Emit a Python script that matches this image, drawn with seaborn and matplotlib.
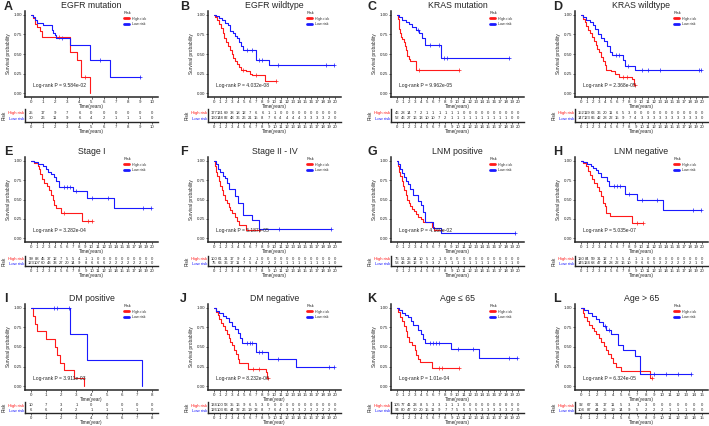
import numpy as np
import pandas as pd
import seaborn as sns
import matplotlib.pyplot as plt

# panel info
letters = ["A", "B", "C", "D", "E", "F", "G", "H", "I", "J", "K", "L"]
titles = ["EGFR mutation", "EGFR wildtype", "KRAS mutation", "KRAS wildtype",
          "Stage I", "Stage II - IV", "LNM positive", "LNM negative",
          "DM positive", "DM negative", "Age \u2264 65", "Age > 65"]
pvals = ["9.584e-02", "4.032e-08", "9.962e-05", "2.368e-05", "3.282e-04", "5.187e-05",
         "4.169e-02", "5.035e-07", "3.911e-03", "8.232e-06", "1.01e-04", "6.324e-05"]
xmax = [10, 20, 20, 20, 20, 20, 20, 20, 8, 20, 20, 15]
xlabels = ["Time(years)"] * 8 + ["Time(year)", "Time(year)", "Time(years)", "Time(years)"]

# A  EGFR mutation
a_high_t = [0.2, 0.35, 0.5, 0.7, 0.9, 3.2, 3.8, 4.1, 4.85]
a_high_s = [0.96, 0.88, 0.84, 0.80, 0.72, 0.52, 0.42, 0.21, 0.0]
a_high_c = [2.3, 4.5]
a_low_t = [0.15, 0.3, 0.5, 1.0, 1.7, 1.8, 1.95, 2.1, 3.2, 4.85, 6.55]
a_low_s = [0.97, 0.93, 0.90, 0.87, 0.81, 0.77, 0.74, 0.70, 0.62, 0.42, 0.21]
a_low_c = [2.6, 5.7, 9.0]
a_risk_high = [25, 17, 9, 7, 6, 0, 0, 0, 0, 0, 0]
a_risk_low = [30, 26, 11, 9, 6, 4, 2, 1, 1, 1, 0]

# B  EGFR wildtype
b_high_t = [0.2, 0.5, 0.8, 1.1, 1.4, 1.7, 2.0, 2.3, 2.6, 2.9, 3.2, 3.5, 3.8, 4.1, 4.4, 5.3, 5.9, 6.2, 8.4]
b_high_s = [0.97, 0.93, 0.88, 0.83, 0.77, 0.71, 0.65, 0.60, 0.55, 0.50, 0.45, 0.41, 0.37, 0.33, 0.30, 0.28, 0.25, 0.23, 0.16]
b_high_c = [4.8, 7.0, 10.3]
b_low_t = [0.3, 0.8, 1.3, 1.8, 2.3, 2.6, 3.1, 3.5, 3.8, 4.2, 4.5, 4.8, 7.0, 9.1]
b_low_s = [0.98, 0.96, 0.93, 0.90, 0.87, 0.80, 0.77, 0.73, 0.70, 0.65, 0.60, 0.55, 0.42, 0.36]
b_low_c = [5.5, 6.2, 7.5, 8.0, 10.5, 18.5, 19.8]
b_risk_high = [177, 131, 69, 38, 18, 12, 7, 6, 6, 1, 1, 0, 0, 0, 0, 0, 0, 0, 0, 0, 0]
b_risk_low = [160, 148, 82, 48, 36, 26, 21, 15, 8, 7, 6, 4, 4, 4, 4, 3, 3, 3, 3, 2, 0]

# C  KRAS mutation
c_high_t = [0.1, 0.25, 0.4, 0.55, 0.7, 0.9, 1.1, 1.3, 1.5, 1.7, 1.9, 2.1, 3.2]
c_high_s = [0.95, 0.88, 0.82, 0.77, 0.72, 0.69, 0.65, 0.60, 0.55, 0.48, 0.44, 0.41, 0.30]
c_high_c = [3.7, 10.3]
c_low_t = [0.4, 0.9, 1.4, 2.0, 2.5, 3.1, 3.7, 4.2, 4.6, 7.3]
c_low_s = [0.97, 0.94, 0.91, 0.88, 0.85, 0.81, 0.77, 0.70, 0.61, 0.45]
c_low_c = [3.5, 5.5, 7.0, 7.8, 8.2, 18.5]
c_risk_high = [46, 28, 14, 7, 2, 1, 1, 1, 1, 1, 1, 0, 0, 0, 0, 0, 0, 0, 0, 0, 0]
c_risk_low = [52, 46, 27, 16, 13, 10, 10, 7, 2, 1, 1, 1, 1, 1, 1, 1, 1, 1, 1, 0, 0]

# D  KRAS wildtype
d_high_t = [0.3, 0.6, 0.9, 1.2, 1.5, 1.8, 2.1, 2.4, 2.7, 3.0, 3.3, 3.6, 3.9, 4.2, 5.0, 5.6, 6.2, 8.4, 8.7]
d_high_s = [0.95, 0.91, 0.86, 0.81, 0.77, 0.72, 0.67, 0.62, 0.57, 0.52, 0.46, 0.41, 0.36, 0.30, 0.28, 0.24, 0.21, 0.18, 0.10]
d_high_c = [7.0, 7.6, 8.9]
d_low_t = [0.4, 0.9, 1.4, 1.9, 2.3, 2.8, 3.3, 3.8, 4.3, 4.8, 5.2, 7.0, 7.3, 9.0]
d_low_s = [0.97, 0.94, 0.91, 0.87, 0.82, 0.76, 0.71, 0.66, 0.60, 0.53, 0.49, 0.42, 0.35, 0.29]
d_low_c = [5.8, 6.3, 7.8, 10.0, 11.0, 13.0, 19.5, 19.8]
d_risk_high = [152, 119, 63, 36, 20, 11, 6, 5, 3, 0, 0, 0, 0, 0, 0, 0, 0, 0, 0, 0, 0]
d_risk_low = [147, 123, 66, 42, 28, 22, 15, 9, 7, 4, 3, 3, 3, 3, 3, 3, 3, 3, 3, 3, 0]

# E  Stage I
e_high_t = [0.5, 1.1, 1.3, 1.5, 1.8, 2.2, 2.6, 3.0, 3.3, 3.55, 3.8, 4.1, 4.9, 8.5]
e_high_s = [0.97, 0.94, 0.89, 0.83, 0.77, 0.72, 0.67, 0.62, 0.56, 0.49, 0.43, 0.39, 0.33, 0.22]
e_high_c = [5.5, 9.5, 10.1]
e_low_t = [0.5, 1.2, 1.9, 2.5, 2.8, 3.3, 3.8, 4.1, 4.6, 6.9, 9.2, 13.7]
e_low_s = [0.98, 0.96, 0.93, 0.90, 0.86, 0.83, 0.79, 0.74, 0.66, 0.61, 0.52, 0.39]
e_low_c = [5.5, 6.0, 6.5, 7.5, 10.0, 12.8, 18.5, 19.9]
e_risk_high = [99, 88, 45, 37, 12, 7, 5, 5, 4, 1, 1, 0, 0, 0, 0, 0, 0, 0, 0, 0, 0]
e_risk_low = [123, 107, 60, 43, 33, 27, 20, 14, 9, 8, 6, 6, 6, 2, 2, 2, 2, 2, 2, 1, 0]

# F  Stage II - IV
f_high_t = [0.15, 0.35, 0.55, 0.8, 1.0, 1.25, 1.5, 1.8, 2.1, 2.4, 2.7, 3.0, 3.4, 3.8, 4.2, 5.3]
f_high_s = [0.93, 0.86, 0.80, 0.74, 0.68, 0.62, 0.56, 0.50, 0.45, 0.40, 0.36, 0.32, 0.27, 0.22, 0.17, 0.11]
f_high_c = [7.5]
f_low_t = [0.3, 0.7, 1.0, 1.4, 1.8, 2.2, 2.5, 3.4, 3.9, 4.8, 6.3, 7.4]
f_low_s = [0.96, 0.90, 0.86, 0.81, 0.78, 0.71, 0.63, 0.55, 0.45, 0.30, 0.24, 0.12]
f_low_c = [10.8, 19.3]
f_risk_high = [100, 61, 31, 17, 9, 4, 2, 1, 0, 0, 0, 0, 0, 0, 0, 0, 0, 0, 0, 0, 0]
f_risk_low = [75, 63, 36, 17, 11, 7, 5, 4, 2, 2, 2, 1, 1, 1, 1, 1, 1, 1, 1, 1, 0]

# G  LNM positive
g_high_t = [0.15, 0.35, 0.55, 0.75, 0.95, 1.15, 1.4, 1.65, 1.9, 2.2, 2.5, 2.8, 3.1, 3.5, 3.9, 4.3, 5.7, 6.1]
g_high_s = [0.93, 0.86, 0.80, 0.74, 0.68, 0.62, 0.56, 0.50, 0.46, 0.42, 0.38, 0.35, 0.31, 0.28, 0.25, 0.21, 0.15, 0.10]
g_high_c = [7.3]
g_low_t = [0.2, 0.5, 0.8, 1.1, 1.4, 1.8, 2.2, 2.6, 3.5, 3.9, 4.3, 4.7, 5.9, 7.3]
g_low_s = [0.96, 0.90, 0.84, 0.79, 0.74, 0.70, 0.64, 0.56, 0.48, 0.43, 0.34, 0.21, 0.13, 0.07]
g_low_c = [19.5]
g_risk_high = [76, 51, 25, 14, 10, 5, 2, 1, 0, 0, 0, 0, 0, 0, 0, 0, 0, 0, 0, 0, 0]
g_risk_low = [53, 43, 23, 12, 9, 5, 3, 2, 1, 1, 1, 1, 1, 1, 1, 1, 1, 1, 1, 1, 0]

# H  LNM negative
h_high_t = [0.4, 0.9, 1.2, 1.5, 1.8, 2.2, 2.6, 3.0, 3.3, 3.6, 3.9, 4.2, 4.8, 8.4]
h_high_s = [0.97, 0.93, 0.87, 0.82, 0.76, 0.71, 0.66, 0.61, 0.55, 0.46, 0.41, 0.33, 0.29, 0.19]
h_high_c = [9.3, 10.2]
h_low_t = [0.4, 1.0, 1.6, 2.0, 2.5, 2.8, 3.3, 4.3, 4.6, 7.2, 9.2, 13.6]
h_low_s = [0.98, 0.96, 0.94, 0.91, 0.88, 0.84, 0.79, 0.74, 0.67, 0.57, 0.50, 0.37]
h_low_c = [5.5, 6.0, 6.5, 8.0, 10.0, 12.5, 18.5, 19.9]
h_risk_high = [120, 84, 59, 31, 12, 7, 5, 5, 4, 1, 1, 0, 0, 0, 0, 0, 0, 0, 0, 0, 0]
h_risk_low = [145, 124, 68, 47, 34, 28, 22, 16, 10, 9, 6, 6, 5, 2, 2, 2, 2, 2, 2, 1, 0]

# I  DM positive
i_high_t = [0.1, 0.25, 0.4, 1.0, 1.6, 1.75, 1.9, 2.2, 2.85, 3.5]
i_high_s = [0.9, 0.8, 0.7, 0.6, 0.5, 0.4, 0.3, 0.2, 0.1, 0.0]
i_high_c = []
i_low_t = [2.6, 3.7, 7.35]
i_low_s = [0.667, 0.333, 0.0]
i_low_c = [1.5, 1.75, 2.5]
i_risk_high = [10, 7, 3, 1, 0, 0, 0, 0, 0]
i_risk_low = [6, 6, 4, 2, 1, 1, 1, 1, 0]

# J  DM negative
j_high_t = [0.3, 0.6, 0.9, 1.2, 1.5, 1.8, 2.1, 2.4, 2.7, 3.0, 3.3, 3.6, 3.9, 4.2, 5.6, 8.6, 8.8]
j_high_s = [0.95, 0.91, 0.86, 0.81, 0.77, 0.72, 0.67, 0.62, 0.57, 0.52, 0.46, 0.41, 0.35, 0.29, 0.22, 0.18, 0.10]
j_high_c = [6.5, 7.5, 9.0]
j_low_t = [0.4, 0.9, 1.4, 1.9, 2.4, 2.9, 3.4, 3.9, 4.3, 4.6, 7.0, 9.0, 13.5]
j_low_s = [0.96, 0.93, 0.90, 0.87, 0.82, 0.77, 0.73, 0.68, 0.62, 0.55, 0.43, 0.35, 0.24]
j_low_c = [5.5, 6.0, 6.3, 7.5, 8.0, 10.5, 19.0, 19.8]
j_risk_high = [134, 100, 58, 35, 16, 9, 6, 5, 3, 0, 0, 0, 0, 0, 0, 0, 0, 0, 0, 0, 0]
j_risk_low = [126, 103, 66, 44, 32, 26, 19, 13, 8, 7, 6, 4, 3, 3, 3, 2, 2, 2, 2, 2, 0]

# K  Age <= 65
k_high_t = [0.2, 0.5, 0.8, 1.1, 1.4, 1.7, 2.0, 2.5, 2.9, 3.2, 3.5, 3.75, 5.85]
k_high_s = [0.95, 0.89, 0.83, 0.77, 0.70, 0.63, 0.57, 0.53, 0.46, 0.40, 0.35, 0.31, 0.23]
k_high_c = [7.0, 7.5, 10.3]
k_low_t = [0.3, 0.8, 1.3, 1.8, 2.3, 2.7, 3.5, 3.9, 4.3, 4.6, 9.0, 13.5]
k_low_s = [0.97, 0.94, 0.91, 0.88, 0.83, 0.78, 0.72, 0.66, 0.60, 0.55, 0.47, 0.36]
k_low_c = [5.5, 6.0, 6.5, 7.0, 10.0, 12.5, 18.5, 19.8]
k_risk_high = [105, 77, 41, 23, 8, 5, 3, 3, 1, 1, 1, 0, 0, 0, 0, 0, 0, 0, 0, 0, 0]
k_risk_low = [94, 80, 47, 30, 20, 15, 11, 9, 7, 7, 5, 5, 5, 5, 3, 3, 3, 3, 3, 2, 0]

# L  Age > 65
l_high_t = [0.2, 0.4, 0.7, 1.0, 1.3, 1.6, 1.9, 2.2, 2.5, 2.8, 3.1, 3.4, 3.7, 4.0, 4.3, 5.0, 8.6]
l_high_s = [0.94, 0.88, 0.83, 0.78, 0.74, 0.70, 0.66, 0.61, 0.56, 0.51, 0.46, 0.41, 0.36, 0.30, 0.25, 0.19, 0.10]
l_high_c = [8.8]
l_low_t = [0.4, 0.9, 1.3, 1.8, 2.2, 2.7, 3.1, 3.7, 4.55, 5.2, 6.65, 7.3]
l_low_s = [0.97, 0.94, 0.90, 0.86, 0.82, 0.77, 0.72, 0.67, 0.52, 0.46, 0.38, 0.16]
l_low_c = [3.0, 3.5, 9.0, 10.5, 12.0, 13.7]
l_risk_high = [92, 67, 31, 17, 11, 5, 3, 3, 3, 0, 0, 0, 0, 0, 0, 0]
l_risk_low = [104, 87, 44, 25, 19, 14, 9, 5, 2, 2, 2, 1, 1, 1, 0, 0]

curves = [
    (a_high_t, a_high_s, a_high_c, a_low_t, a_low_s, a_low_c, a_risk_high, a_risk_low),
    (b_high_t, b_high_s, b_high_c, b_low_t, b_low_s, b_low_c, b_risk_high, b_risk_low),
    (c_high_t, c_high_s, c_high_c, c_low_t, c_low_s, c_low_c, c_risk_high, c_risk_low),
    (d_high_t, d_high_s, d_high_c, d_low_t, d_low_s, d_low_c, d_risk_high, d_risk_low),
    (e_high_t, e_high_s, e_high_c, e_low_t, e_low_s, e_low_c, e_risk_high, e_risk_low),
    (f_high_t, f_high_s, f_high_c, f_low_t, f_low_s, f_low_c, f_risk_high, f_risk_low),
    (g_high_t, g_high_s, g_high_c, g_low_t, g_low_s, g_low_c, g_risk_high, g_risk_low),
    (h_high_t, h_high_s, h_high_c, h_low_t, h_low_s, h_low_c, h_risk_high, h_risk_low),
    (i_high_t, i_high_s, i_high_c, i_low_t, i_low_s, i_low_c, i_risk_high, i_risk_low),
    (j_high_t, j_high_s, j_high_c, j_low_t, j_low_s, j_low_c, j_risk_high, j_risk_low),
    (k_high_t, k_high_s, k_high_c, k_low_t, k_low_s, k_low_c, k_risk_high, k_risk_low),
    (l_high_t, l_high_s, l_high_c, l_low_t, l_low_s, l_low_c, l_risk_high, l_risk_low),
]

sns.set_style("ticks")
plt.rcParams['font.family'] = ['Liberation Sans', 'DejaVu Sans']
palette = {"High risk": "#FF1A1A", "Low risk": "#1A1AFF"}

W, H = 709, 426
fig = plt.figure(figsize=(W / 100, H / 100), dpi=100)


def px_axes(left, top, right, bottom):
    return fig.add_axes([left / W, 1 - bottom / H, (right - left) / W, (bottom - top) / H])


col_left = [25, 208, 391, 575]
col_width = 133
main_rows = [(11, 97), (157, 242), (304, 390)]
table_rows = [(109, 122), (256, 266), (402, 413)]
letter_x = [4, 180, 367, 553]
letter_y = [7, 152, 299]


def km_frame(t, s, cens, group):
    end = max([t[-1]] + list(cens))
    times = [0] + list(t)
    surv = [1.0] + list(s)
    if end > t[-1]:
        times.append(end)
        surv.append(s[-1])
    return pd.DataFrame({"time": times, "surv": surv, "Risk": group})


def surv_at(t, s, x):
    idx = np.searchsorted(np.array(t), x, side="right") - 1
    return np.where(idx < 0, 1.0, np.array(s)[np.clip(idx, 0, None)])


for k in range(12):
    r, c = divmod(k, 4)
    ht, hs, hc, lt, ls, lc, rh, rl = curves[k]
    xm = xmax[k]
    left = col_left[c]
    top, bottom = main_rows[r]
    ax = px_axes(left, top, left + col_width, bottom)

    df = pd.concat([km_frame(ht, hs, hc, "High risk"), km_frame(lt, ls, lc, "Low risk")])
    sns.lineplot(data=df, x="time", y="surv", hue="Risk", palette=palette,
                 estimator=None, sort=False, drawstyle="steps-post", lw=0.8, ax=ax)
    for t, s, cens, grp in [(ht, hs, hc, "High risk"), (lt, ls, lc, "Low risk")]:
        if len(cens):
            cy = surv_at(t, s, np.array(cens))
            sns.scatterplot(x=cens, y=cy, marker="+", s=6, linewidth=0.5,
                            color=palette[grp], ax=ax, legend=False)

    ax.set_xlim(-0.05 * xm, 1.05 * xm)
    ax.set_ylim(-0.05, 1.05)
    ax.set_xticks(range(0, xm + 1))
    ax.set_yticks([0, 0.25, 0.5, 0.75, 1.0])
    ax.set_yticklabels(["0.00", "0.25", "0.50", "0.75", "1.00"])
    ax.tick_params(labelsize=3.2, length=1.5, width=0.5, pad=0.8)
    ax.set_xlabel(xlabels[k], fontsize=3.3, labelpad=0)
    ax.set_ylabel("Survival probability", fontsize=3.4, labelpad=1.5)
    for sp in ["top", "right"]:
        ax.spines[sp].set_visible(False)
    for sp in ["left", "bottom"]:
        ax.spines[sp].set_linewidth(1.1)
    ax.set_title(titles[k], fontsize=6.3, pad=2)
    ax.text(0.02 * xm, 0.1, "Log-rank P = " + pvals[k], fontsize=3.6, va="center")

    leg = ax.legend(title="Risk", loc="upper left", bbox_to_anchor=(0.73, 1.02),
                    fontsize=2.6, title_fontsize=2.8, frameon=False,
                    handlelength=1.6, labelspacing=0.5, borderaxespad=0)
    leg._legend_box.align = "left"
    for line in leg.get_lines():
        line.set_linewidth(2.0)

    fig.text(letter_x[c] / W, 1 - letter_y[r] / H, letters[k], fontsize=9,
             fontweight="bold", va="center", ha="left")

    # risk table
    ttop, tbot = table_rows[r]
    tax = px_axes(left, ttop, left + col_width, tbot)
    tax.set_xlim(-0.05 * xm, 1.05 * xm)
    tax.set_ylim(-0.6, 1.6)
    for i in range(xm + 1):
        tax.text(i, 1, str(rh[i]), fontsize=3.0, ha="center", va="center")
        tax.text(i, 0, str(rl[i]), fontsize=3.0, ha="center", va="center")
    tax.set_xticks(range(0, xm + 1))
    tax.set_yticks([1, 0])
    tax.set_yticklabels(["High risk", "Low risk"])
    for lab, grp in zip(tax.get_yticklabels(), ["High risk", "Low risk"]):
        lab.set_color(palette[grp])
    tax.tick_params(labelsize=3.1, length=1.5, width=0.5, pad=0.8)
    tax.tick_params(axis="y", length=0)
    tax.set_xlabel(xlabels[k], fontsize=3.3, labelpad=0)
    tax.set_ylabel("Risk", fontsize=3.4, labelpad=1)
    for sp in ["top", "right"]:
        tax.spines[sp].set_visible(False)
    for sp in ["left", "bottom"]:
        tax.spines[sp].set_linewidth(1.0)

fig.savefig("out.png", dpi=100)
